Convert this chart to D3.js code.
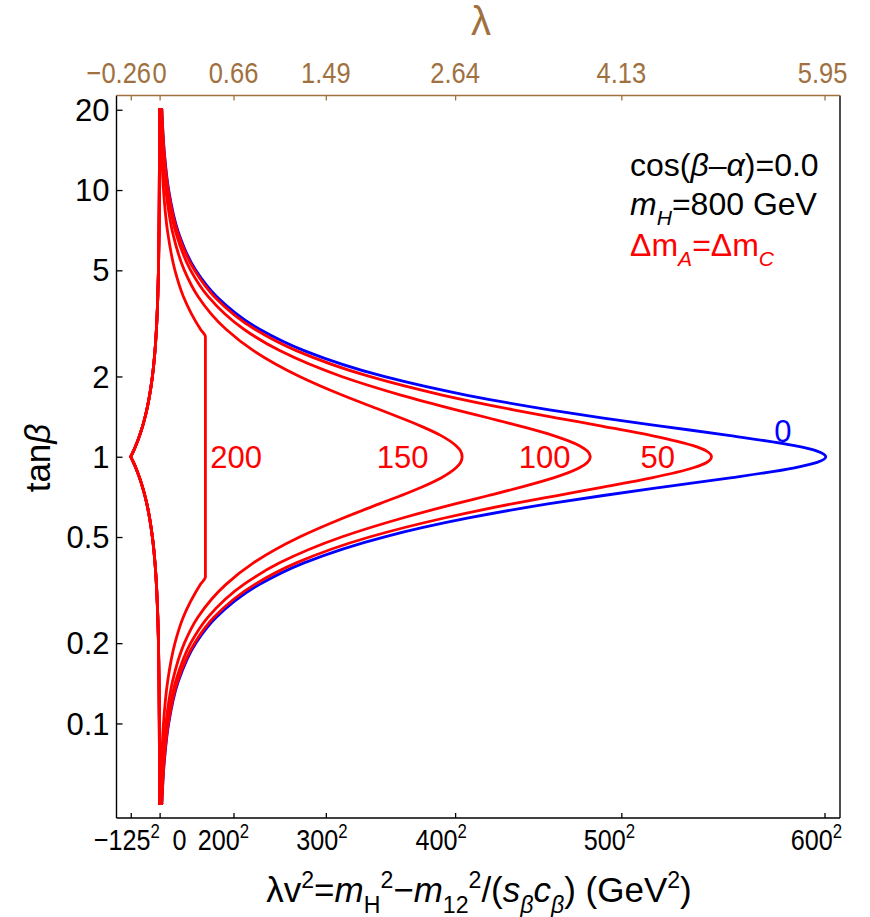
<!DOCTYPE html>
<html><head><meta charset="utf-8">
<script src="https://cdn.jsdelivr.net/npm/d3@7"></script>
<style>
body{margin:0;background:#fff}
svg{display:block}
text{font-family:"Liberation Sans",Arial,Helvetica,sans-serif}
</style>
</head><body>
<svg id="chart" width="870" height="917"></svg>
<script>
// ---------------- data ----------------
const vev = 246;                       // GeV, for the top lambda axis
// right (upper) boundary of each region: tan(beta) and lambda v^2 (GeV^2)
const tanbRight = [20, 14, 10, 7, 5, 4, 3, 2.5, 2, 1.7, 1.5, 1.4, 1.3, 1.2, 1.1, 1.05, 1,
                   0.952, 0.909, 0.833, 0.769, 0.714, 0.667, 0.588, 0.5, 0.4, 0.333, 0.25, 0.2, 0.143, 0.1, 0.0714, 0.05];
const dm0   = [1200, 2500, 4900, 10000, 19600, 30700, 54400, 78200, 121400, 166600, 211100, 239400, 272400, 309000, 343800, 356000, 360700,
               356000, 343800, 309000, 272400, 239400, 211100, 166600, 121400, 78200, 54400, 30700, 19600, 10000, 4900, 2500, 1200];
const dm50  = [1200, 2400, 4700, 9600, 18900, 29400, 51800, 74000, 113600, 153600, 191500, 214600, 240100, 266400, 288900, 296200, 298800,
               296200, 288900, 266400, 240100, 214600, 191500, 153600, 113600, 74000, 51800, 29400, 18900, 9600, 4700, 2400, 1200];
const dm100 = [1100, 2200, 4200, 8600, 16800, 26100, 45800, 65000, 98500, 131100, 160500, 177600, 195700, 213300, 227300, 231600, 233200,
               231600, 227300, 213300, 195700, 177600, 160500, 131100, 98500, 65000, 45800, 26100, 16800, 8600, 4200, 2200, 1100];
const dm150 = [800, 1700, 3400, 6900, 13400, 20700, 36100, 50800, 75800, 99100, 119300, 130400, 141800, 152400, 160500, 163000, 163800,
               163000, 160500, 152400, 141800, 130400, 119300, 99100, 75800, 50800, 36100, 20700, 13400, 6900, 3400, 1700, 800];
const tanb200 = [20, 14, 10, 7, 5, 4, 3, 2.82, 0.355, 0.333, 0.25, 0.2, 0.143, 0.1, 0.0714, 0.05];
const dm200   = [500, 1100, 2100, 4300, 8300, 12800, 22200, 24800, 24800, 22200, 12800, 8300, 4300, 2100, 1100, 500];
// common left (lower) boundary
const tanbLeftUp  = [20, 14, 10, 7, 5, 4, 3, 2.5, 2, 1.7, 1.5, 1.4, 1.3, 1.2, 1.1, 1.05, 1];
const leftUp      = [-40, -80, -160, -320, -620, -980, -1740, -2500, -3910, -5410, -6940, -7970, -9250, -10850, -12910, -14170, -15625];
const tanbLeftLow = [1, 0.952, 0.909, 0.833, 0.769, 0.714, 0.667, 0.588, 0.5, 0.4, 0.333, 0.25, 0.2, 0.143, 0.1, 0.0714, 0.05];
const leftLow     = [-15625, -14170, -12910, -10850, -9250, -7970, -6940, -5410, -3910, -2500, -1740, -980, -620, -320, -160, -80, -40];

const curveNames  = ["0", "50", "100", "150", "200"];
const curveColors = ["#0000ff", "#ff0000", "#ff0000", "#ff0000", "#ff0000"];
const labelX    = [337400, 269700, 208500, 131600, 41400];
const labelTanb = [1.246, 1, 1, 1, 1];

const xTickValues = [-15625, 0, 40000, 90000, 160000, 250000, 360000];
const xTickBase   = ["\u2212125", "0", "200", "300", "400", "500", "600"];
const xTickSquare = [true, false, true, true, true, true, true];
const lambdaTickValues = [-0.258, 0, 0.661, 1.487, 2.644, 4.131, 5.949];
const lambdaTickLabels = ["\u22120.26", "0", "0.66", "1.49", "2.64", "4.13", "5.95"];
const yTickValues = [0.1, 0.2, 0.5, 1, 2, 5, 10, 20];
const yTickLabels = ["0.1", "0.2", "0.5", "1", "2", "5", "10", "20"];

// ---------------- layout ----------------
const L = 116.5, R = 840, T = 95.5, B = 818;
const brown = "#a0713f";
const xLabelNudge = [-4, 20, -10, -4, -14, -12, -8];   // label placement tweaks (px)
const lamLabelNudge = [-12, 0, 0, 0, 0, 0, -2];
const svg = d3.select("#chart");

const x = d3.scaleLinear().domain([-23343, 368395]).range([L, R]);
const xl = d3.scaleLinear().domain(x.domain().map(d => d / (vev * vev))).range([L, R]);
const y = d3.scaleLog().domain([0.0442, 22.62]).range([B, T]);

// ---------------- curves ----------------
const line = d3.line().x(d => x(d[0])).y(d => y(d[1])).curve(d3.curveMonotoneY);
const plot = svg.append("g");
function drawRegion(tb, vals, color) {
  const right = tb.map((t, i) => [vals[i], t]);
  const lu = tanbLeftUp.map((t, i) => [leftUp[i], t]);
  const ll = tanbLeftLow.map((t, i) => [leftLow[i], t]);
  const pieces = [right, lu, ll,
    [[leftUp[0], tanbLeftUp[0]], [vals[0], tb[0]]],
    [[leftLow[leftLow.length - 1], tanbLeftLow[tanbLeftLow.length - 1]], [vals[vals.length - 1], tb[tb.length - 1]]]];
  pieces.forEach(p => {
    plot.append("path").attr("d", line(p)).attr("fill", "none")
      .attr("stroke", color).attr("stroke-width", 2.8)
      .attr("stroke-linejoin", "round").attr("stroke-linecap", "round");
  });
}
drawRegion(tanbRight, dm0, curveColors[0]);
drawRegion(tanbRight, dm50, curveColors[1]);
drawRegion(tanbRight, dm100, curveColors[2]);
drawRegion(tanbRight, dm150, curveColors[3]);
drawRegion(tanb200, dm200, curveColors[4]);

// contour labels
curveNames.forEach((n, i) => {
  svg.append("text").attr("x", x(labelX[i])).attr("y", y(labelTanb[i]))
    .attr("dy", "0.36em").attr("text-anchor", "middle")
    .attr("font-size", 31).attr("fill", curveColors[i]).text(n);
});

// ---------------- axes ----------------
const ax = svg.append("g");
const gB = ax.append("g").attr("transform", `translate(0,${B})`)
  .call(d3.axisBottom(x).tickValues(xTickValues).tickSizeInner(-5).tickSizeOuter(0).tickFormat(() => ""));
gB.select(".domain").remove();
gB.selectAll(".tick line").attr("stroke", "#000").attr("stroke-width", 1.3);
const gT = ax.append("g").attr("transform", `translate(0,${T})`)
  .call(d3.axisTop(xl).tickValues(lambdaTickValues).tickSizeInner(-5).tickSizeOuter(0).tickFormat(() => ""));
gT.select(".domain").remove();
gT.selectAll(".tick line").attr("stroke", brown).attr("stroke-width", 1.3);
const gL = ax.append("g").attr("transform", `translate(${L},0)`)
  .call(d3.axisLeft(y).tickValues(yTickValues).tickSizeInner(-6).tickSizeOuter(0).tickFormat(() => ""));
gL.select(".domain").remove();
gL.selectAll(".tick line").attr("stroke", "#000").attr("stroke-width", 1.3);

ax.append("line").attr("x1", L).attr("x2", L).attr("y1", T).attr("y2", B).attr("stroke", "#000").attr("stroke-width", 1.4);
ax.append("line").attr("x1", R).attr("x2", R).attr("y1", T).attr("y2", B).attr("stroke", "#000").attr("stroke-width", 1.4);
ax.append("line").attr("x1", L).attr("x2", R).attr("y1", B).attr("y2", B).attr("stroke", "#000").attr("stroke-width", 1.4);
ax.append("line").attr("x1", L).attr("x2", R).attr("y1", T).attr("y2", T).attr("stroke", brown).attr("stroke-width", 1.4);

// tick labels (x axes use a narrower face)
xTickValues.forEach((v, i) => {
  const t = svg.append("text")
    .attr("transform", `translate(${x(v) + xLabelNudge[i]},850) scale(0.84,1)`)
    .attr("text-anchor", "middle").attr("font-size", 30).attr("fill", "#000");
  t.append("tspan").text(xTickBase[i]);
  if (xTickSquare[i]) t.append("tspan").attr("dy", -12).attr("font-size", 20).text("2");
});
lambdaTickValues.forEach((v, i) => {
  svg.append("text")
    .attr("transform", `translate(${xl(v) + lamLabelNudge[i]},83) scale(0.88,1)`)
    .attr("text-anchor", "middle").attr("font-size", 29).attr("fill", brown).text(lambdaTickLabels[i]);
});
yTickValues.forEach((v, i) => {
  svg.append("text").attr("x", L - 7).attr("y", y(v)).attr("dy", "0.36em").attr("text-anchor", "end")
    .attr("font-size", 31).attr("fill", "#000").text(yTickLabels[i]);
});

function rich(sel, parts, size) {
  let shift = 0;
  parts.forEach(p => {
    const [txt, st] = p;
    const ts = sel.append("tspan").text(txt);
    let target = 0, fs = size;
    if (st.includes("sub")) { target = size * 0.3; fs = size * 0.66; }
    if (st.includes("sup")) { target = -size * 0.4; fs = size * 0.66; }
    if (target !== shift) { ts.attr("dy", target - shift); shift = target; }
    ts.attr("font-size", fs);
    if (st.includes("i")) ts.attr("font-style", "italic");
  });
}

// axis titles
svg.append("text").attr("x", 481).attr("y", 35).attr("text-anchor", "middle")
  .attr("font-size", 40).attr("fill", brown).text("\u03bb");

const xt = svg.append("text").attr("x", 479).attr("y", 902).attr("text-anchor", "middle").attr("fill", "#000");
rich(xt, [["\u03bbv", "n"], ["2", "sup"], ["=", "n"], ["m", "i"], ["H", "sub"], ["2", "sup"], ["\u2212", "n"], ["m", "i"],
  ["12", "sub"], ["2", "sup"], ["/(", "n"], ["s", "i"], ["\u03b2", "sub i"], ["c", "i"], ["\u03b2", "sub i"], [") (GeV", "n"], ["2", "sup"], [")", "n"]], 35);

const yt = svg.append("text").attr("transform", "translate(50,458) rotate(-90)").attr("text-anchor", "middle").attr("fill", "#000");
rich(yt, [["tan", "n"], ["\u03b2", "i"]], 35);

// legend
const l1 = svg.append("text").attr("x", 630).attr("y", 176).attr("fill", "#000");
rich(l1, [["cos(", "n"], ["\u03b2", "i"], ["\u2013", "n"], ["\u03b1", "i"], [")=0.0", "n"]], 32);
const l2 = svg.append("text").attr("x", 630).attr("y", 215).attr("fill", "#000");
rich(l2, [["m", "i"], ["H", "sub i"], ["=800 GeV", "n"]], 32);
const l3 = svg.append("text").attr("x", 630).attr("y", 256).attr("fill", "#ff0000");
rich(l3, [["\u0394m", "n"], ["A", "sub i"], ["=\u0394m", "n"], ["C", "sub i"]], 32);
</script>
</body></html>
